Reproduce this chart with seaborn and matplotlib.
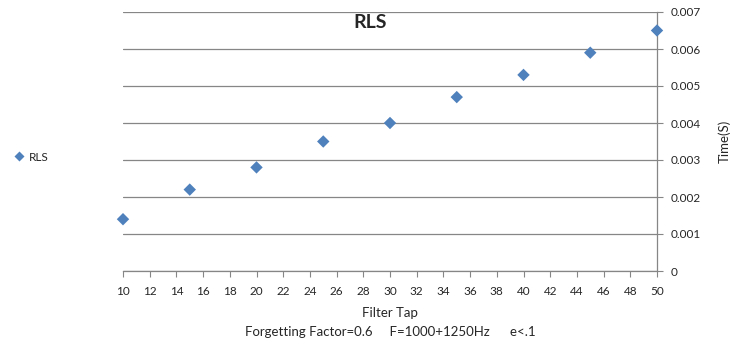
import numpy as np
import pandas as pd
import matplotlib
matplotlib.use("Agg")
import matplotlib.pyplot as plt
import seaborn as sns

# values
filter_tap = [10, 15, 20, 25, 30, 35, 40, 45, 50]
time_s = [0.0014, 0.0022, 0.0028, 0.0035, 0.0040, 0.0047, 0.0053, 0.0059, 0.0065]
series_name = "RLS"
x_ticks = list(range(10, 51, 2))
y_ticks = [0, 0.001, 0.002, 0.003, 0.004, 0.005, 0.006, 0.007]
y_tick_labels = ["0", "0.001", "0.002", "0.003", "0.004", "0.005", "0.006", "0.007"]

df = pd.DataFrame({"Filter Tap": filter_tap, "Time": time_s, "Series": series_name})

sns.set_theme(style="white")
plt.rcParams["font.family"] = ["Lato", "DejaVu Sans"]

blue = "#4F81BD"
grey = "#868686"

fig = plt.figure(figsize=(7.42, 3.54), dpi=100)
ax = fig.add_axes([123 / 742, 83 / 354, 534 / 742, 259 / 354])

sns.scatterplot(data=df, x="Filter Tap", y="Time", hue="Series", palette=[blue],
                marker="D", s=40, edgecolor="none", ax=ax, zorder=3)
for coll in ax.collections:
    coll.set_clip_on(False)

ax.set_xlim(10, 50)
ax.set_ylim(0, 0.007)
ax.set_xticks(x_ticks)
ax.set_xticklabels([str(t) for t in x_ticks], fontsize=8.5)
ax.set_yticks(y_ticks)
ax.set_yticklabels(y_tick_labels, fontsize=8.5)

ax.yaxis.tick_right()
ax.yaxis.set_label_position("right")
ax.tick_params(axis="x", direction="out", length=4, width=0.8, color=grey, pad=7, bottom=True)
ax.tick_params(axis="y", direction="out", length=4, width=0.8, color=grey, pad=6, right=True, left=False)

ax.grid(axis="y", color=grey, linewidth=0.9)
ax.grid(axis="x", visible=False)
ax.set_axisbelow(True)

for side in ["top", "left"]:
    ax.spines[side].set_visible(False)
for side in ["bottom", "right"]:
    ax.spines[side].set_color(grey)
    ax.spines[side].set_linewidth(0.9)

ax.set_xlabel("Filter Tap\nForgetting Factor=0.6     F=1000+1250Hz      e<.1",
              fontsize=9.5, labelpad=7, linespacing=1.65)
ax.set_ylabel("Time(S)", fontsize=9.5, labelpad=12)

fig.text(370 / 742, 1 - 22 / 354, "RLS", fontsize=14, fontweight="bold",
         ha="center", va="center")

handles, labels = ax.get_legend_handles_labels()
ax.legend(handles, labels, loc="center left", bbox_to_anchor=(-0.004, 1 - 157 / 354),
          bbox_transform=fig.transFigure, frameon=False, fontsize=8.5,
          handletextpad=-0.2, markerscale=0.8)

fig.savefig("out.png", dpi=100)
